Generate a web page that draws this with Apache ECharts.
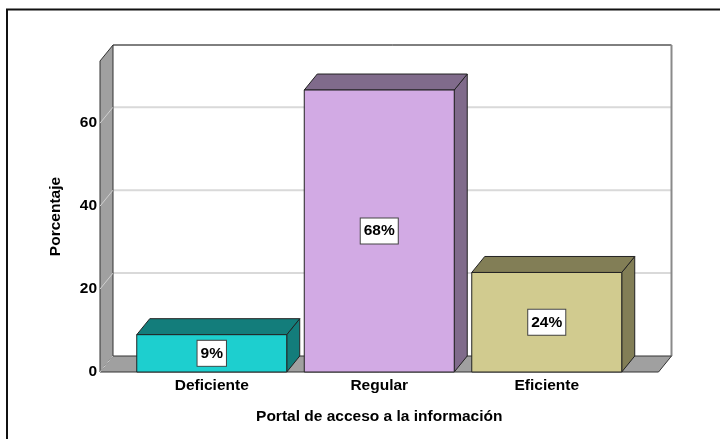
<!DOCTYPE html>
<html>
<head>
<meta charset="utf-8">
<script src="https://cdn.jsdelivr.net/npm/echarts@6/dist/echarts.min.js"></script>
<style>
  html, body { margin: 0; padding: 0; background: #fff; }
  #chart { width: 720px; height: 439px; }
</style>
</head>
<body>
<div id="chart"></div>
<script>
// Data
const categories = ['Deficiente', 'Regular', 'Eficiente'];
const percentages = [9, 68, 24];
const valueLabels = ['9%', '68%', '24%'];
const gridValues = [0, 20, 40, 60];
const yMax = 75;

// Palette: front face and darker top/side shade for each bar
const frontColors = ['#1dcfcf', '#d2aae4', '#d1cb8f'];
const shadeColors = ['#137d7b', '#806b8b', '#827e56'];

// 3D look
const DX = 13, DY = -16;       // depth offset of the box
const WALL_EXT = 28;           // how far the floor reaches past the outer bands
const FONT = 'Arial, "Liberation Sans", sans-serif';
const FONT_SIZE = 15.5;
const FONT_WEIGHT = 'bold';

const chart = echarts.init(document.getElementById('chart'), null, { renderer: 'canvas' });

function renderFrame(params, api) {
  const cs = params.coordSys;
  const left = cs.x - WALL_EXT;
  const right = cs.x + cs.width + WALL_EXT;
  const baseY = api.coord([0, 0])[1];
  const topY = api.coord([0, yMax])[1];
  const children = [];
  // back wall
  children.push({
    type: 'rect',
    shape: { x: left + DX, y: topY + DY, width: right - left, height: baseY - topY },
    style: { fill: '#fff', stroke: null }
  });
  // grid lines on back wall
  gridValues.forEach(function (v) {
    if (v === 0) return;
    const y = api.coord([0, v])[1];
    children.push({
      type: 'line',
      shape: { x1: left + DX, y1: y + DY, x2: right + DX, y2: y + DY },
      style: { stroke: '#d9d9d9', lineWidth: 2 }
    });
  });
  // back wall top and right edges
  children.push({
    type: 'line',
    shape: { x1: left + DX, y1: topY + DY, x2: right + DX, y2: topY + DY },
    style: { stroke: '#000', lineWidth: 1 }
  });
  children.push({
    type: 'line',
    shape: { x1: right + DX, y1: topY + DY, x2: right + DX, y2: baseY + DY },
    style: { stroke: '#8a8a8a', lineWidth: 2 }
  });
  // left side wall
  children.push({
    type: 'polygon',
    shape: { points: [[left, topY], [left + DX, topY + DY], [left + DX, baseY + DY], [left, baseY]] },
    style: { fill: '#a0a0a0', stroke: '#333', lineWidth: 1 }
  });
  gridValues.forEach(function (v) {
    const y = api.coord([0, v])[1];
    children.push({
      type: 'line',
      shape: { x1: left, y1: y, x2: left + DX, y2: y + DY },
      style: { stroke: '#cfcfcf', lineWidth: 1 }
    });
  });
  // floor
  children.push({
    type: 'polygon',
    shape: { points: [[left, baseY], [left + DX, baseY + DY], [right + DX, baseY + DY], [right, baseY]] },
    style: { fill: '#a0a0a0', stroke: '#333', lineWidth: 1 }
  });
  children.push({
    type: 'line',
    shape: { x1: left, y1: baseY, x2: left + DX, y2: baseY + DY },
    style: { stroke: '#cfcfcf', lineWidth: 1 }
  });
  return { type: 'group', children: children };
}

function renderBar(params, api) {
  const i = params.dataIndex;
  const base = api.coord([api.value(0), 0]);
  const top = api.coord([api.value(0), api.value(1)]);
  const w = api.size([1, 0])[0] * 0.8955;
  const x0 = base[0] - w / 2;
  const x1 = x0 + w;
  const yT = top[1], yB = base[1];
  const edge = { stroke: '#222', lineWidth: 1 };
  return {
    type: 'group',
    children: [
      {
        type: 'polygon',
        shape: { points: [[x1, yT], [x1 + DX, yT + DY], [x1 + DX, yB + DY], [x1, yB]] },
        style: Object.assign({ fill: shadeColors[i] }, edge)
      },
      {
        type: 'polygon',
        shape: { points: [[x0, yT], [x0 + DX, yT + DY], [x1 + DX, yT + DY], [x1, yT]] },
        style: Object.assign({ fill: shadeColors[i] }, edge)
      },
      {
        type: 'rect',
        shape: { x: x0, y: yT, width: w, height: yB - yT },
        style: Object.assign({ fill: frontColors[i] }, edge)
      },
      {
        type: 'text',
        x: base[0],
        y: (yT + yB) / 2,
        style: {
          text: valueLabels[i],
          align: 'center',
          verticalAlign: 'middle',
          font: FONT_WEIGHT + ' ' + FONT_SIZE + 'px ' + FONT,
          fill: '#000',
          backgroundColor: '#fff',
          borderColor: '#444',
          borderWidth: 1,
          padding: [5, 3, 4, 3]
        }
      }
    ]
  };
}

const textStyle = { fontSize: FONT_SIZE, fontWeight: FONT_WEIGHT, fontFamily: FONT, color: '#000' };

const option = {
  animation: false,
  backgroundColor: '#fff',
  graphic: [{
    type: 'rect',
    left: 4.5, top: 7,
    shape: { width: 800, height: 500 },
    style: { fill: null, stroke: '#111', lineWidth: 2 },
    z: -10
  }],
  grid: { left: 128, right: 89.5, top: 61, bottom: 67, containLabel: false },
  xAxis: {
    type: 'category',
    data: categories,
    axisLine: { show: false },
    axisTick: { show: false },
    axisLabel: Object.assign({ margin: 6 }, textStyle),
    name: 'Portal de acceso a la información',
    nameLocation: 'middle',
    nameGap: 37,
    nameTextStyle: textStyle
  },
  yAxis: {
    type: 'value',
    min: 0,
    max: yMax,
    interval: 20,
    offset: WALL_EXT,
    axisLine: { show: false },
    axisTick: { show: false },
    splitLine: { show: false },
    axisLabel: Object.assign({
      margin: 3,
      formatter: function (v) { return v % 20 === 0 ? String(v) : ''; }
    }, textStyle),
    name: 'Porcentaje',
    nameLocation: 'middle',
    nameRotate: 90,
    nameGap: 36,
    nameTextStyle: textStyle
  },
  series: [
    {
      type: 'custom',
      renderItem: renderFrame,
      data: [[0, 0]],
      clip: false,
      z: 1,
      silent: true
    },
    {
      type: 'custom',
      renderItem: renderBar,
      data: percentages.map(function (v, i) { return [i, v]; }),
      clip: false,
      z: 2
    }
  ]
};

chart.setOption(option);
</script>
</body>
</html>
